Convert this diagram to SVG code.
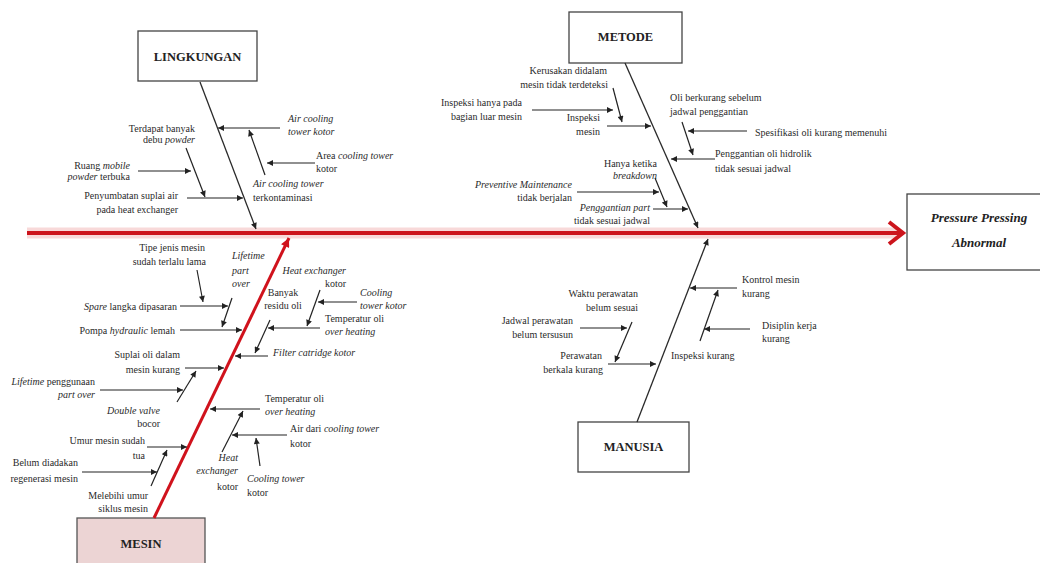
<svg xmlns="http://www.w3.org/2000/svg" width="1040" height="563" viewBox="0 0 1040 563">
<defs>
<marker id="ah" viewBox="0 0 10 10" refX="10" refY="5" markerWidth="8" markerHeight="6" markerUnits="userSpaceOnUse" orient="auto"><path d="M0,0 L10,5 L0,10 z" fill="#222"/></marker>
<marker id="rh" viewBox="0 0 10 10" refX="10" refY="5" markerWidth="11" markerHeight="9" markerUnits="userSpaceOnUse" orient="auto"><path d="M0,0 L10,5 L0,10 z" fill="#d0121c"/></marker>
<style>
.t{font-family:"Liberation Serif","Times New Roman",serif;font-size:10px;fill:#2a2a2a}
.e{text-anchor:end}
.m{text-anchor:middle}
.i{font-style:italic}
.hd{font-family:"Liberation Serif","Times New Roman",serif;font-size:12.5px;font-weight:bold;fill:#222;text-anchor:middle}
.box{fill:#fff;stroke:#444;stroke-width:1.3}
.ln{stroke:#222;stroke-width:1.2;fill:none;marker-end:url(#ah)}
.bone{stroke:#2a2a2a;stroke-width:1.3;fill:none;marker-end:url(#ah)}
</style>
</defs>
<rect width="1040" height="563" fill="#fff"/>

<g id="spine">
<line x1="27" y1="233" x2="898" y2="233" stroke="#f6c9c9" stroke-width="11" opacity="0.7"/>
<line x1="27" y1="233" x2="900" y2="233" stroke="#cc141c" stroke-width="4"/>
<polyline points="889,222 903,233 889,244" stroke="#cc141c" stroke-width="4" fill="none"/>
</g>

<g id="effect">
<rect x="907" y="194" width="145" height="76" class="box"/>
<text x="979" y="222" font-family="Liberation Serif, serif" font-size="13px" font-weight="bold" font-style="italic" fill="#222" text-anchor="middle">Pressure Pressing</text>
<text x="979" y="247" font-family="Liberation Serif, serif" font-size="13px" font-weight="bold" font-style="italic" fill="#222" text-anchor="middle">Abnormal</text>
</g>

<g id="lingkungan">
<rect x="138" y="31" width="119" height="50" class="box"/>
<text x="197.5" y="61" class="hd">LINGKUNGAN</text>
</g>

<g id="metode">
<rect x="569" y="12" width="113" height="51" class="box"/>
<text x="625.5" y="41" class="hd">METODE</text>
</g>

<g id="mesin">
<rect x="77" y="518" width="128" height="55" fill="#ecd4d4" stroke="#555" stroke-width="1.3"/>
<text x="141" y="548" class="hd">MESIN</text>
</g>

<g id="manusia">
<rect x="578" y="422" width="111" height="50" class="box"/>
<text x="633.5" y="451" class="hd">MANUSIA</text>
</g>

<g id="connectors">
<!-- main bones -->
<line x1="200" y1="82" x2="256" y2="229" class="bone"/>
<line x1="625" y1="63" x2="698" y2="228" class="bone"/>
<line x1="637" y1="422" x2="708" y2="239" class="bone"/>
<line x1="154" y1="518" x2="289" y2="238" stroke="#d0121c" stroke-width="3" marker-end="url(#rh)"/>

<!-- lingkungan -->
<line x1="186" y1="148" x2="205" y2="197" class="ln"/>
<line x1="138" y1="171" x2="191" y2="171" class="ln"/>
<line x1="187" y1="198" x2="243" y2="198" class="ln"/>
<line x1="280" y1="128" x2="218" y2="128" class="ln"/>
<line x1="315" y1="163" x2="267" y2="163" class="ln"/>
<line x1="265" y1="175" x2="249" y2="130" class="ln"/>

<!-- metode -->
<line x1="613" y1="88" x2="622" y2="122" class="ln"/>
<line x1="532" y1="110" x2="613" y2="110" class="ln"/>
<line x1="607" y1="126" x2="651" y2="126" class="ln"/>
<line x1="655" y1="178" x2="667" y2="207" class="ln"/>
<line x1="577" y1="192" x2="659" y2="192" class="ln"/>
<line x1="653" y1="209" x2="688" y2="209" class="ln"/>
<line x1="682" y1="122" x2="693" y2="155" class="ln"/>
<line x1="747" y1="131" x2="688" y2="131" class="ln"/>
<line x1="715" y1="159" x2="671" y2="159" class="ln"/>

<!-- mesin upper left -->
<line x1="197" y1="270" x2="203" y2="302" class="ln"/>
<line x1="232" y1="298" x2="222" y2="327" class="ln"/>
<line x1="180" y1="306" x2="228" y2="306" class="ln"/>
<line x1="180" y1="330" x2="242" y2="330" class="ln"/>
<line x1="185" y1="368" x2="224" y2="368" class="ln"/>
<line x1="100" y1="390" x2="183" y2="390" class="ln"/>
<line x1="177" y1="402" x2="196" y2="371" class="ln"/>
<!-- mesin lower left -->
<line x1="147" y1="447" x2="187" y2="447" class="ln"/>
<line x1="82" y1="472" x2="157" y2="472" class="ln"/>
<line x1="151" y1="486" x2="167" y2="450" class="ln"/>
<!-- mesin upper right -->
<line x1="320" y1="290" x2="307" y2="326" class="ln"/>
<line x1="357" y1="302" x2="318" y2="302" class="ln"/>
<line x1="320" y1="328" x2="268" y2="328" class="ln"/>
<line x1="270" y1="320" x2="255" y2="353" class="ln"/>
<line x1="268" y1="356" x2="235" y2="356" class="ln"/>
<!-- mesin lower right -->
<line x1="260" y1="409" x2="210" y2="409" class="ln"/>
<line x1="287" y1="435" x2="232" y2="435" class="ln"/>
<line x1="222" y1="452" x2="243" y2="411" class="ln"/>
<line x1="260" y1="466" x2="256" y2="438" class="ln"/>

<!-- manusia -->
<line x1="580" y1="328" x2="627" y2="328" class="ln"/>
<line x1="632" y1="322" x2="615" y2="362" class="ln"/>
<line x1="608" y1="364" x2="656" y2="364" class="ln"/>
<line x1="737" y1="288" x2="690" y2="288" class="ln"/>
<line x1="750" y1="329" x2="704" y2="329" class="ln"/>
<line x1="700" y1="341" x2="718" y2="290" class="ln"/>
</g>

<g id="labels">
<!-- lingkungan -->
<text x="195" y="132" class="t e">Terdapat banyak</text>
<text x="195" y="143" class="t e">debu <tspan class="i">powder</tspan></text>
<text x="130" y="168.5" class="t e">Ruang <tspan class="i">mobile</tspan></text>
<text x="130" y="179.5" class="t e"><tspan class="i">powder</tspan> terbuka</text>
<text x="178" y="198.5" class="t e">Penyumbatan suplai air</text>
<text x="178" y="213" class="t e">pada heat exchanger</text>
<text x="288" y="121.5" class="t i">Air cooling</text>
<text x="288" y="134.5" class="t i">tower kotor</text>
<text x="316" y="158.5" class="t">Area <tspan class="i">cooling tower</tspan></text>
<text x="316" y="171.5" class="t">kotor</text>
<text x="253" y="187" class="t i">Air cooling tower</text>
<text x="253" y="201" class="t">terkontaminasi</text>

<!-- metode -->
<text x="607" y="73.5" class="t e">Kerusakan didalam</text>
<text x="608" y="88" class="t e">mesin tidak terdeteksi</text>
<text x="522" y="105.5" class="t e">Inspeksi hanya pada</text>
<text x="522" y="120" class="t e">bagian luar mesin</text>
<text x="600" y="120.5" class="t e">Inspeksi</text>
<text x="600" y="135" class="t e">mesin</text>
<text x="657" y="166.5" class="t e">Hanya ketika</text>
<text x="657" y="178.5" class="t e i">breakdown</text>
<text x="572" y="187.5" class="t e i">Preventive Maintenance</text>
<text x="572" y="200.5" class="t e">tidak berjalan</text>
<text x="650" y="210.5" class="t e"><tspan class="i">Penggantian part</tspan></text>
<text x="650" y="223.5" class="t e">tidak sesuai jadwal</text>
<text x="670" y="100.5" class="t">Oli berkurang sebelum</text>
<text x="670" y="115" class="t">jadwal penggantian</text>
<text x="755" y="135.5" class="t">Spesifikasi oli kurang memenuhi</text>
<text x="715" y="156.5" class="t">Penggantian oli hidrolik</text>
<text x="715" y="171.5" class="t">tidak sesuai jadwal</text>

<!-- mesin -->
<text x="205" y="251" class="t e">Tipe jenis mesin</text>
<text x="206" y="264.5" class="t e">sudah terlalu lama</text>
<text x="232" y="258.5" class="t i">Lifetime</text>
<text x="232" y="273.5" class="t i">part</text>
<text x="232" y="286.5" class="t i">over</text>
<text x="177" y="310" class="t e"><tspan class="i">Spare</tspan> langka dipasaran</text>
<text x="175" y="333.5" class="t e">Pompa <tspan class="i">hydraulic</tspan> lemah</text>
<text x="180" y="357.5" class="t e">Suplai oli dalam</text>
<text x="180" y="372.5" class="t e">mesin kurang</text>
<text x="95" y="384.5" class="t e"><tspan class="i">Lifetime</tspan> penggunaan</text>
<text x="95" y="397.5" class="t e i">part over</text>
<text x="160" y="413.5" class="t e i">Double valve</text>
<text x="160" y="426.5" class="t e">bocor</text>
<text x="145" y="443.5" class="t e">Umur mesin sudah</text>
<text x="145" y="458.5" class="t e">tua</text>
<text x="78" y="465.5" class="t e">Belum diadakan</text>
<text x="78" y="481.5" class="t e">regenerasi mesin</text>
<text x="148" y="498.5" class="t e">Melebihi umur</text>
<text x="148" y="511.5" class="t e">siklus mesin</text>

<text x="346" y="273.5" class="t e i">Heat exchanger</text>
<text x="346" y="286.5" class="t e">kotor</text>
<text x="360" y="295.5" class="t i">Cooling</text>
<text x="360" y="308.5" class="t i">tower kotor</text>
<text x="283" y="295.5" class="t m">Banyak</text>
<text x="283" y="308.5" class="t m">residu oli</text>
<text x="325" y="321.5" class="t">Temperatur oli</text>
<text x="325" y="335" class="t i">over heating</text>
<text x="273" y="355.5" class="t i">Filter catridge kotor</text>
<text x="265" y="401.5" class="t">Temperatur oli</text>
<text x="265" y="415" class="t i">over heating</text>
<text x="290" y="431.5" class="t">Air dari <tspan class="i">cooling tower</tspan></text>
<text x="290" y="446.5" class="t">kotor</text>
<text x="238" y="460.5" class="t e i">Heat</text>
<text x="238" y="473.5" class="t e i">exchanger</text>
<text x="238" y="490" class="t e">kotor</text>
<text x="247" y="481.5" class="t i">Cooling tower</text>
<text x="247" y="495.5" class="t">kotor</text>

<!-- manusia -->
<text x="638" y="296.5" class="t e">Waktu perawatan</text>
<text x="638" y="311" class="t e">belum sesuai</text>
<text x="573" y="323.5" class="t e">Jadwal perawatan</text>
<text x="573" y="338" class="t e">belum tersusun</text>
<text x="602" y="358.5" class="t e">Perawatan</text>
<text x="603" y="373" class="t e">berkala kurang</text>
<text x="742" y="282.5" class="t">Kontrol mesin</text>
<text x="742" y="296.5" class="t">kurang</text>
<text x="762" y="328.5" class="t">Disiplin kerja</text>
<text x="762" y="342" class="t">kurang</text>
<text x="671" y="358.5" class="t">Inspeksi kurang</text>
</g>
</svg>
